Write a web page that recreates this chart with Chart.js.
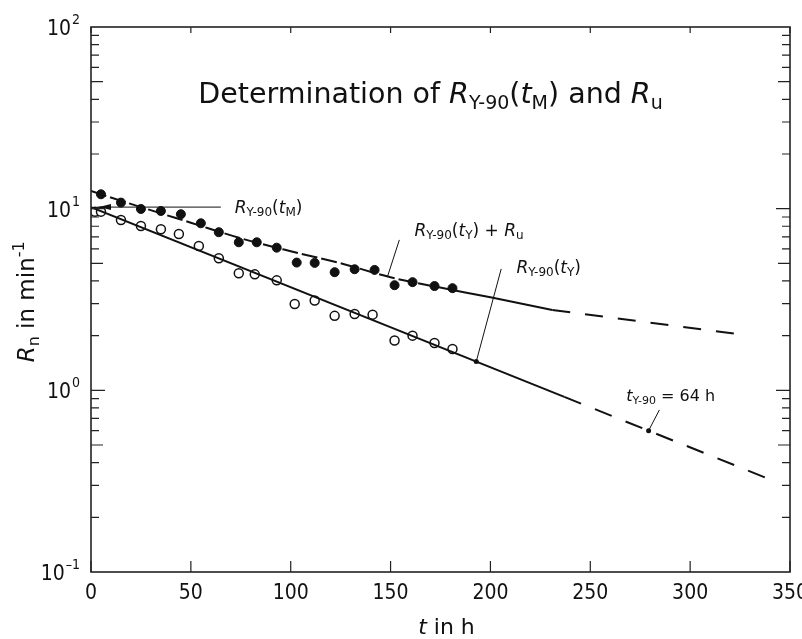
<!DOCTYPE html>
<html>
<head>
<meta charset="utf-8">
<script src="https://cdn.jsdelivr.net/npm/chart.js@4.4.1/dist/chart.umd.min.js"></script>
<style>
html,body{margin:0;padding:0;background:#fff}
#wrap{width:802px;height:639px}
</style>
</head>
<body>
<div id="wrap"><canvas id="c"></canvas></div>
<script>
// measured points (t in h, R in 1/min)
const tFilled=[5,15,25,35,45,55,64,74,83,93,103,112,122,132,142,152,161,172,181];
const rFilled=[12.0,10.8,9.96,9.71,9.32,8.31,7.42,6.53,6.53,6.10,5.05,5.03,4.47,4.64,4.60,3.79,3.94,3.75,3.65];
const tOpen=[2,5,15,25,35,44,54,64,74,82,93,102,112,122,132,141,152,161,172,181];
const rOpen=[9.63,9.63,8.66,8.03,7.70,7.26,6.23,5.33,4.41,4.35,4.03,2.99,3.12,2.57,2.63,2.61,1.88,2.00,1.82,1.69];

// drawn curves
const tSumA=[0,25,50,75,100,125,150,181];
const rSumA=[12.5,10.2,8.37,6.87,5.83,5.01,4.19,3.57];
const tSumB=[181,200,231];
const rSumB=[3.57,3.25,2.77];
const tSumC=[231,327];
const rSumC=[2.77,2.02];
const tYSolid=[0,237];
const rYSolid=[10.2,0.92];
const tYDash=[237,338];
const rYDash=[0.92,0.33];

const xTicks=[0,50,100,150,200,250,300,350];
const yDecades=[-1,0,1,2];

const FAM='"DejaVu Sans", Verdana, sans-serif';
const NARROW='"Liberation Sans Narrow", "DejaVu Sans Condensed", sans-serif';

function pts(xs,ys){return xs.map((x,i)=>({x:x,y:ys[i]}));}

function lineSet(xs,ys,dash,width,smooth){
  const d={data:pts(xs,ys),showLine:true,borderColor:'#111',borderWidth:width,borderDash:dash,
    pointRadius:0,fill:false};
  if(smooth)d.cubicInterpolationMode='monotone';
  return d;
}

// rich text: parts = [text, kind], kind n / i / sub / sup
function rich(ctx,parts,x,y,size,align){
  const f=p=>{
    const small=(p[1]==='sub'||p[1]==='sup');
    return (p[1]==='i'?'italic ':'')+(small?Math.round(size*0.68):size)+'px '+FAM;
  };
  let w=0;
  parts.forEach(p=>{ctx.font=f(p);w+=ctx.measureText(p[0]).width;});
  let cx=align==='center'?x-w/2:(align==='right'?x-w:x);
  ctx.textAlign='left';ctx.textBaseline='alphabetic';
  parts.forEach(p=>{
    ctx.font=f(p);
    const dy=p[1]==='sub'?size*0.2:(p[1]==='sup'?-size*0.42:0);
    ctx.fillText(p[0],cx,y+dy);
    cx+=ctx.measureText(p[0]).width;
  });
}

const decor={
  id:'decor',
  afterDatasetsDraw(chart){
    const ctx=chart.ctx,a=chart.chartArea,xs=chart.scales.x,ys=chart.scales.y;
    const px=t=>xs.getPixelForValue(t),py=v=>ys.getPixelForValue(v);
    ctx.save();
    ctx.strokeStyle='#222';ctx.fillStyle='#111';
    // frame
    ctx.lineWidth=1.6;
    ctx.strokeRect(a.left,a.top,a.right-a.left,a.bottom-a.top);
    // x ticks
    ctx.lineWidth=1.2;
    xTicks.forEach(t=>{
      const x=px(t);
      ctx.beginPath();ctx.moveTo(x,a.bottom);ctx.lineTo(x,a.bottom-11);
      ctx.moveTo(x,a.top);ctx.lineTo(x,a.top+6);ctx.stroke();
    });
    // y ticks (log minors)
    for(let d=-1;d<2;d++){
      for(let m=1;m<=9;m++){
        if(m===1&&d===-1)continue;
        const y=py(m*Math.pow(10,d));
        const len=m===1?14:(m===5?12:8);
        ctx.beginPath();
        ctx.moveTo(a.left,y);ctx.lineTo(a.left+len,y);
        ctx.moveTo(a.right,y);ctx.lineTo(a.right-len,y);
        ctx.stroke();
      }
    }
    // y tick labels 10^n
    yDecades.forEach(d=>{
      const y=py(Math.pow(10,d));
      const ex=String(d).replace('-','\u2013');
      ctx.font='21px '+NARROW;
      const w1=ctx.measureText('10').width;
      ctx.font='14px '+NARROW;
      const w2=ctx.measureText(ex).width;
      const x0=80-w1-w2-1;
      ctx.font='21px '+NARROW;ctx.textAlign='left';ctx.textBaseline='alphabetic';
      ctx.fillText('10',x0,y+8);
      ctx.font='14px '+NARROW;
      ctx.fillText(ex,x0+w1+1,y-3);
    });
    // title
    rich(ctx,[['Determination of ','n'],['R','i'],['Y-90','sub'],['(','n'],['t','i'],['M','sub'],[') and ','n'],['R','i'],['u','sub']],
      px(170),103,28.5,'center');
    // axis titles
    rich(ctx,[['t','i'],[' in h','n']],px(178),634,22,'center');
    ctx.save();
    ctx.translate(34,py(3.07));
    ctx.rotate(-Math.PI/2);
    rich(ctx,[['R','i'],['n','sub'],[' in min','n'],['-1','sup']],0,0,23,'center');
    ctx.restore();

    ctx.lineWidth=1;ctx.strokeStyle='#111';
    // R_Y-90(t_M) arrow
    const yM=py(rYSolid[0]);
    ctx.beginPath();ctx.moveTo(px(3),yM);ctx.lineTo(px(65),yM);ctx.stroke();
    ctx.beginPath();ctx.moveTo(px(4),yM);ctx.lineTo(px(10),yM-3);ctx.lineTo(px(10),yM+3);ctx.closePath();ctx.fill();
    rich(ctx,[['R','i'],['Y-90','sub'],['(','n'],['t','i'],['M','sub'],[')','n']],px(72),py(9.5),17,'left');
    // R_Y-90(t_Y) + R_u
    ctx.beginPath();ctx.moveTo(px(154.4),py(6.73));ctx.lineTo(px(148.4),py(4.21));ctx.stroke();
    rich(ctx,[['R','i'],['Y-90','sub'],['(','n'],['t','i'],['Y','sub'],[') + ','n'],['R','i'],['u','sub']],px(162),py(7.08),17,'left');
    // R_Y-90(t_Y)
    ctx.beginPath();ctx.moveTo(px(205.4),py(4.66));ctx.lineTo(px(192.9),py(1.44));ctx.stroke();
    ctx.beginPath();ctx.arc(px(192.9),py(1.44),2.5,0,Math.PI*2);ctx.fill();
    rich(ctx,[['R','i'],['Y-90','sub'],['(','n'],['t','i'],['Y','sub'],[')','n']],px(213),py(4.43),17,'left');
    // t_Y-90 = 64 h
    ctx.beginPath();ctx.moveTo(px(284.6),py(0.78));ctx.lineTo(px(279.2),py(0.60));ctx.stroke();
    ctx.beginPath();ctx.arc(px(279.2),py(0.60),2.5,0,Math.PI*2);ctx.fill();
    rich(ctx,[['t','i'],['Y-90','sub'],[' = 64 h','n']],px(268),py(0.875),16,'left');
    ctx.restore();
  }
};

new Chart(document.getElementById('c'),{
  type:'scatter',
  data:{datasets:[
    lineSet(tSumA,rSumA,[16,4],2,true),
    lineSet(tSumB,rSumB,[],2,true),
    lineSet(tSumC,rSumC,[18,15],2,false),
    lineSet(tYSolid,rYSolid,[],2,false),
    lineSet(tYDash,rYDash,[18,15],2,false),
    {data:pts(tFilled,rFilled),pointRadius:4.5,pointBackgroundColor:'#111',pointBorderColor:'#111',pointBorderWidth:1,showLine:false},
    {data:pts(tOpen,rOpen),pointRadius:4.5,pointBackgroundColor:'#fff',pointBorderColor:'#111',pointBorderWidth:1.5,showLine:false}
  ]},
  options:{
    responsive:true,maintainAspectRatio:false,animation:false,
    layout:{padding:{left:0,top:27,right:12,bottom:0}},
    plugins:{legend:{display:false},tooltip:{enabled:false}},
    scales:{
      x:{type:'linear',min:0,max:350,
        grid:{display:false,drawTicks:false},border:{display:false},
        ticks:{stepSize:50,padding:9,color:'#111',font:{family:NARROW,size:21},maxRotation:0,autoSkip:false},
        afterFit(s){s.height=67;s.paddingLeft=0;s.paddingRight=0;}},
      y:{type:'logarithmic',min:0.1,max:100,
        grid:{display:false,drawTicks:false},border:{display:false},
        ticks:{display:false},
        afterFit(s){s.width=91;s.paddingTop=0;s.paddingBottom=0;}}
    }
  },
  plugins:[decor]
});
</script>
</body>
</html>
